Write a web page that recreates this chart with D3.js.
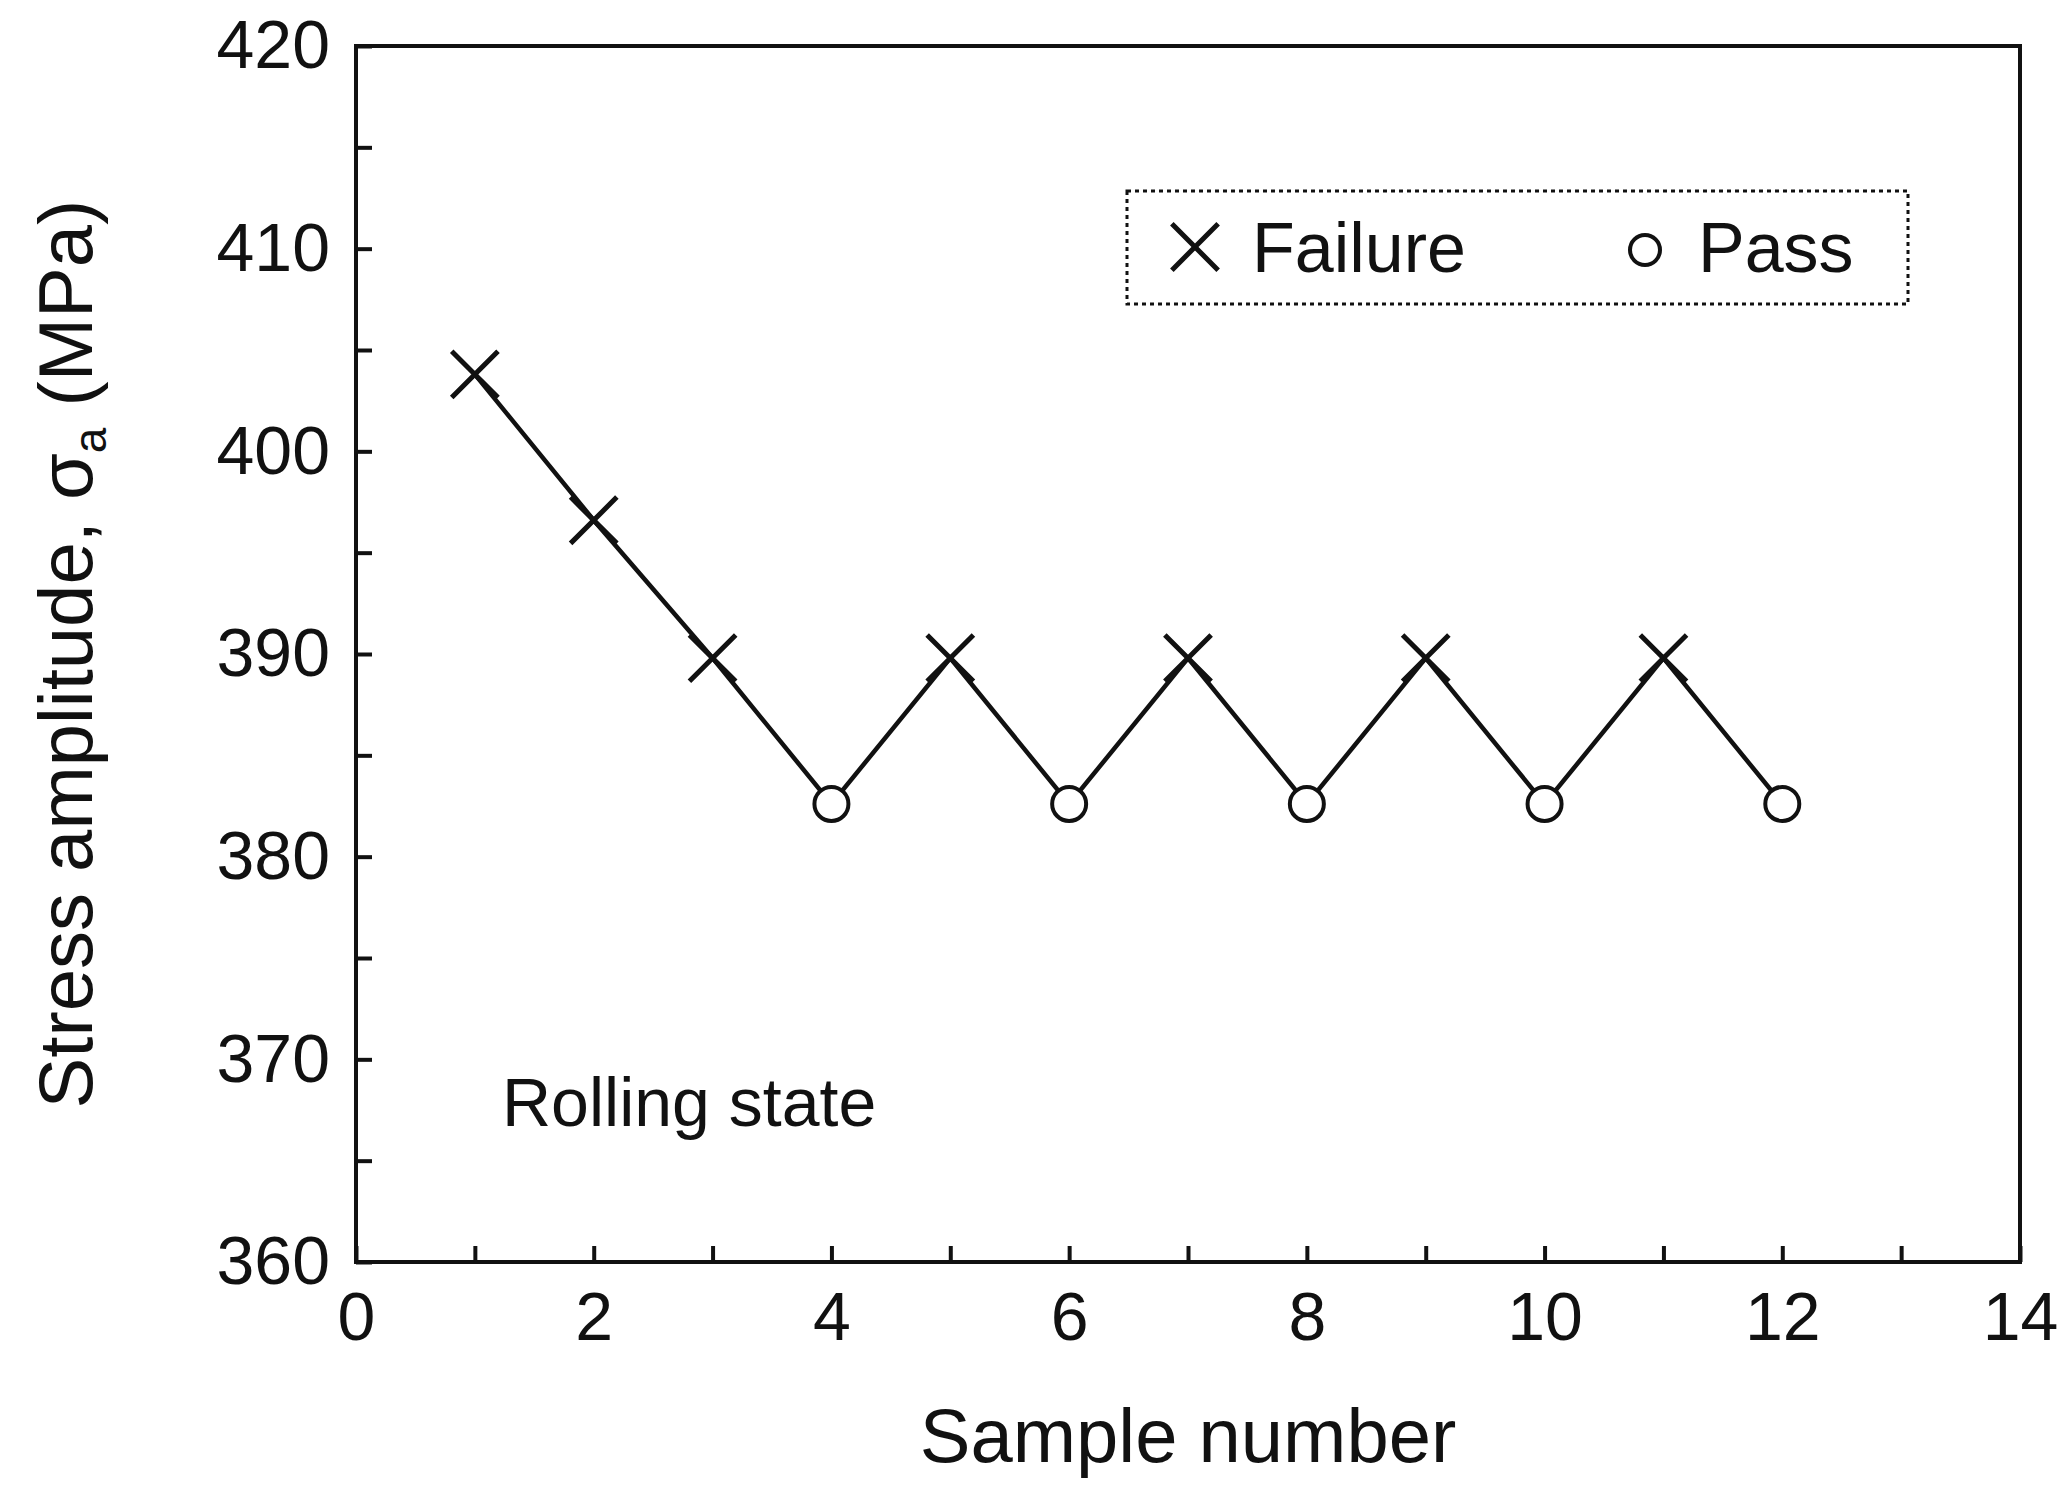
<!DOCTYPE html>
<meta charset="utf-8">
<style>
body{margin:0;background:#fff;}
text{font-family:"Liberation Sans Narrow","Liberation Sans",Arial,sans-serif;fill:#111;}
</style>
<body>
<script src="https://d3js.org/d3.v7.min.js"></script>
<script>
// data
var samples = [1,2,3,4,5,6,7,8,9,10,11,12];
var stress  = [403.8,396.6,389.8,382.6,389.8,382.6,389.8,382.6,389.8,382.6,389.8,382.6];
var result  = ["F","F","F","P","F","P","F","P","F","P","F","P"];
var xTicks = [0,2,4,6,8,10,12,14];
var yTicks = [360,370,380,390,400,410,420];

var W = 2057, H = 1486;
var m = {l:356, r:2020, t:46, b:1262};
var svg = d3.select("body").append("svg").attr("width",W).attr("height",H);

var x = d3.scaleLinear().domain([0,14]).range([m.l,m.r]);
var y = d3.scaleLinear().domain([360,420]).range([m.b,m.t]);

// frame
svg.append("rect").attr("x",m.l).attr("y",m.t).attr("width",m.r-m.l).attr("height",m.b-m.t)
   .attr("fill","none").attr("stroke","#111").attr("stroke-width",4);

// x axis: inner ticks and labels in separate groups
var gx = svg.append("g").attr("transform","translate(0,"+m.b+")")
   .call(d3.axisBottom(x).tickValues(d3.range(0,15,1)).tickSize(-16).tickFormat(""));
gx.select(".domain").remove();
gx.selectAll("line").attr("stroke","#111").attr("stroke-width",4);
var gxl = svg.append("g").attr("transform","translate(0,"+m.b+")")
   .call(d3.axisBottom(x).tickValues(xTicks).tickSize(0).tickPadding(30).tickFormat(d3.format("d")));
gxl.select(".domain").remove();
gxl.selectAll("text").style("font-size","68px");

// y axis
var gy = svg.append("g").attr("transform","translate("+m.l+",0)")
   .call(d3.axisLeft(y).tickValues(d3.range(360,421,5)).tickSize(-16).tickFormat(""));
gy.select(".domain").remove();
gy.selectAll("line").attr("stroke","#111").attr("stroke-width",4);
var gyl = svg.append("g").attr("transform","translate("+m.l+",0)")
   .call(d3.axisLeft(y).tickValues(yTicks).tickSize(0).tickPadding(26).tickFormat(d3.format("d")));
gyl.select(".domain").remove();
gyl.selectAll("text").style("font-size","68px");

// axis titles
svg.append("text").attr("x",(m.l+m.r)/2).attr("y",1462).attr("text-anchor","middle")
   .style("font-size","76px").text("Sample number");
var yt = svg.append("text").attr("transform","translate(92,"+((m.t+m.b)/2)+") rotate(-90)")
   .attr("text-anchor","middle").style("font-size","76px");
yt.append("tspan").text("Stress amplitude, \u03c3");
yt.append("tspan").attr("dy",14).style("font-size","46px").text("a");
yt.append("tspan").attr("dy",-14).text(" (MPa)");

// line
var pts = samples.map(function(s,i){return {s:s,v:stress[i],r:result[i]};});
svg.append("path").datum(pts).attr("fill","none").attr("stroke","#111").attr("stroke-width",4.5)
   .attr("d",d3.line().x(function(d){return x(d.s);}).y(function(d){return y(d.v);}));

var cross = d3.symbol().type(d3.symbolX).size(1400);
svg.selectAll(".f").data(pts.filter(function(d){return d.r=="F";})).join("path")
   .attr("transform",function(d){return "translate("+x(d.s)+","+y(d.v)+")";})
   .attr("d",cross).attr("fill","none").attr("stroke","#111").attr("stroke-width",5);
svg.selectAll(".p").data(pts.filter(function(d){return d.r=="P";})).join("circle")
   .attr("cx",function(d){return x(d.s);}).attr("cy",function(d){return y(d.v);}).attr("r",17)
   .attr("fill","#fff").attr("stroke","#111").attr("stroke-width",4);

// legend
svg.append("rect").attr("x",1127).attr("y",191).attr("width",781).attr("height",113)
   .attr("fill","none").attr("stroke","#111").attr("stroke-width",3).attr("stroke-dasharray","4,4");
svg.append("path").attr("transform","translate(1195,247)").attr("d",cross)
   .attr("fill","none").attr("stroke","#111").attr("stroke-width",5);
svg.append("text").attr("x",1252).attr("y",272).style("font-size","70px").text("Failure");
svg.append("circle").attr("cx",1645).attr("cy",250).attr("r",15)
   .attr("fill","#fff").attr("stroke","#111").attr("stroke-width",4);
svg.append("text").attr("x",1698).attr("y",272).style("font-size","70px").text("Pass");

svg.append("text").attr("x",502).attr("y",1126).style("font-size","68px").text("Rolling state");
</script>
</body>
</html>
